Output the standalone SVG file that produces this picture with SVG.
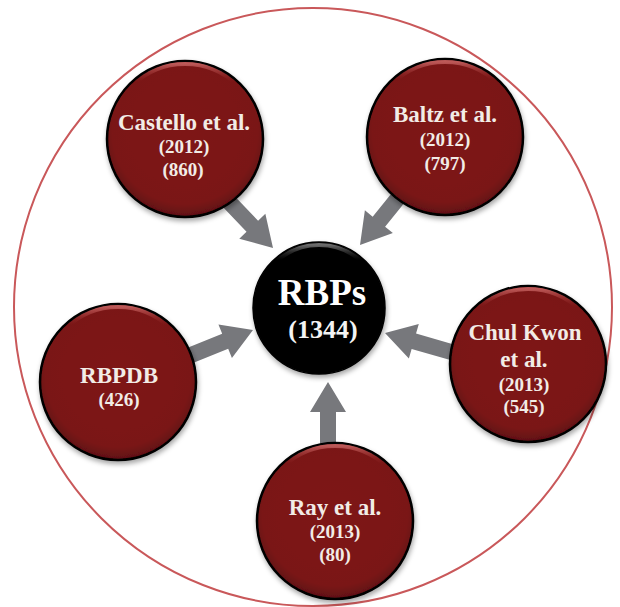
<svg xmlns="http://www.w3.org/2000/svg" width="620" height="607" viewBox="0 0 620 607">
<defs>
<radialGradient id="redG" cx="50%" cy="45%" r="55%">
<stop offset="0" stop-color="#7e1718"/>
<stop offset="0.85" stop-color="#7a1516"/>
<stop offset="1" stop-color="#5e1011"/>
</radialGradient>
<linearGradient id="rimR" x1="0" y1="0" x2="0" y2="1">
<stop offset="0" stop-color="#c4605f" stop-opacity="0.9"/>
<stop offset="0.12" stop-color="#9a2c2c" stop-opacity="0"/>
<stop offset="1" stop-color="#000" stop-opacity="0"/>
</linearGradient>
<linearGradient id="rimK" x1="0" y1="0" x2="0" y2="1">
<stop offset="0" stop-color="#777" stop-opacity="0.9"/>
<stop offset="0.12" stop-color="#333" stop-opacity="0"/>
<stop offset="1" stop-color="#000" stop-opacity="0"/>
</linearGradient>
<filter id="sh" x="-20%" y="-20%" width="140%" height="140%">
<feDropShadow dx="1" dy="3" stdDeviation="2.5" flood-color="#000" flood-opacity="0.35"/>
</filter>
</defs>
<style>
.src{fill:url(#redG);stroke:#000;stroke-width:2.5;filter:url(#sh)}
.rim{fill:none;stroke:url(#rimR);stroke-width:4}
.rimk{fill:none;stroke:url(#rimK);stroke-width:4}
.arr{fill:#77787c}
text{font-family:"Liberation Serif","Times New Roman",serif;font-weight:bold;fill:#f2ece6;text-anchor:middle}
.t1{font-size:23px}
.t2{font-size:19px}
</style>
<circle cx="313" cy="307" r="299" fill="none" stroke="#c9585a" stroke-width="2"/>
<g id="connectors">
<path class="arr" transform="translate(273,248) rotate(46.4)" d="M-66,-8 L-30,-8 L-30,-18 L0,0 L-30,18 L-30,8 L-66,8 Z"/>
<path class="arr" transform="translate(360,245) rotate(129)" d="M-64,-8 L-30,-8 L-30,-18 L0,0 L-30,18 L-30,8 L-64,8 Z"/>
<path class="arr" transform="translate(253,330) rotate(-22)" d="M-72,-8 L-30,-8 L-30,-18 L0,0 L-30,18 L-30,8 L-72,8 Z"/>
<path class="arr" transform="translate(385,333) rotate(196)" d="M-72,-8 L-30,-8 L-30,-18 L0,0 L-30,18 L-30,8 L-72,8 Z"/>
<path class="arr" transform="translate(328,382) rotate(-90)" d="M-64,-8 L-30,-8 L-30,-18 L0,0 L-30,18 L-30,8 L-64,8 Z"/>
</g>
<g id="castello">
<circle class="src" cx="185" cy="139" r="78"/>
<circle class="rim" cx="185" cy="139" r="75"/>
<text class="t1" x="184" y="130">Castello et al.</text>
<text class="t2" x="184" y="153">(2012)</text>
<text class="t2" x="183" y="176">(860)</text>
</g>
<g id="baltz">
<circle class="src" cx="445" cy="137" r="78"/>
<circle class="rim" cx="445" cy="137" r="75"/>
<text class="t1" x="445" y="122">Baltz et al.</text>
<text class="t2" x="445" y="146">(2012)</text>
<text class="t2" x="445" y="170">(797)</text>
</g>
<g id="chulkwon">
<circle class="src" cx="528" cy="364" r="78"/>
<circle class="rim" cx="528" cy="364" r="75"/>
<text class="t1" x="525" y="340">Chul Kwon</text>
<text class="t1" x="524" y="367">et al.</text>
<text class="t2" x="524" y="391">(2013)</text>
<text class="t2" x="524" y="413">(545)</text>
</g>
<g id="ray">
<circle class="src" cx="335" cy="521" r="78"/>
<circle class="rim" cx="335" cy="521" r="75"/>
<text class="t1" x="335" y="515">Ray et al.</text>
<text class="t2" x="335" y="538">(2013)</text>
<text class="t2" x="335" y="561">(80)</text>
</g>
<g id="rbpdb">
<circle class="src" cx="118" cy="382" r="78"/>
<circle class="rim" cx="118" cy="382" r="75"/>
<text class="t1" x="119" y="383">RBPDB</text>
<text class="t2" x="119" y="406">(426)</text>
</g>
<g id="rbps">
<circle cx="319" cy="308" r="66" fill="#000" stroke="#000" stroke-width="1.5" filter="url(#sh)"/>
<circle class="rimk" cx="319" cy="308" r="63"/>
<text x="322" y="305" style="font-size:37px;fill:#fff">RBPs</text>
<text x="323" y="338" style="font-size:26px;fill:#f4f4f4">(1344)</text>
</g>
</svg>
